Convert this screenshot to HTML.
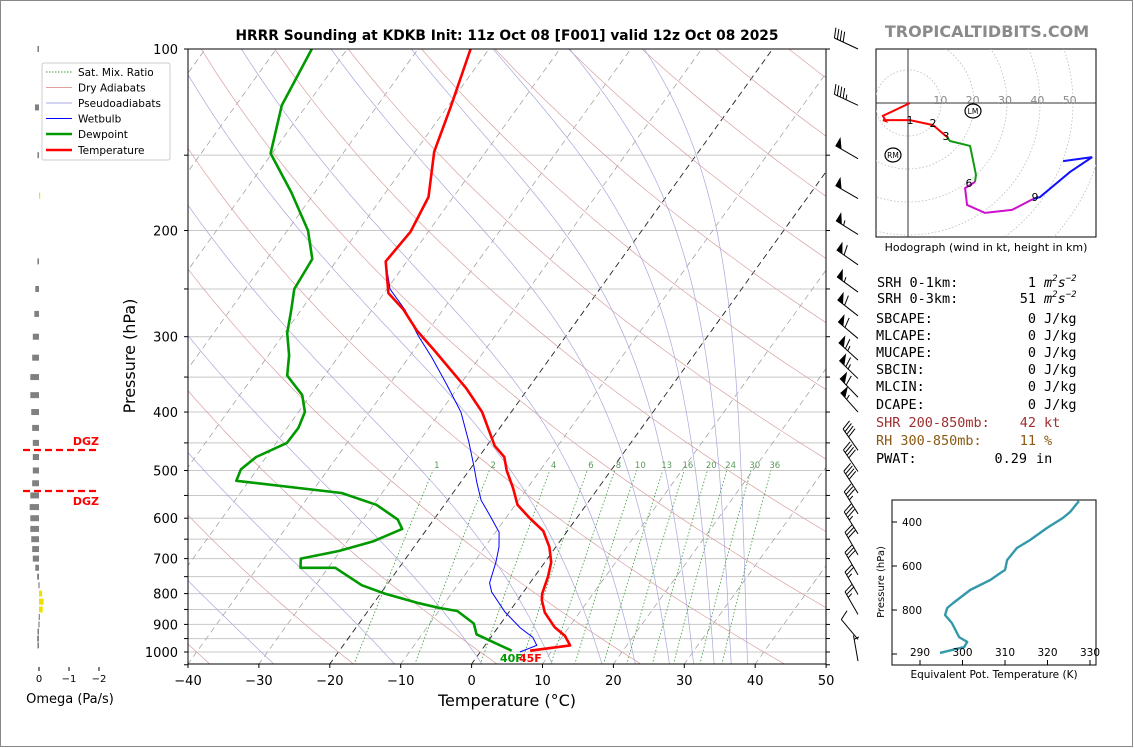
<!DOCTYPE html>
<html><head><meta charset="utf-8"><style>
html,body{margin:0;padding:0;background:#fff;}
svg{display:block;font-family:"DejaVu Sans","Liberation Sans",sans-serif;}
</style></head><body>
<svg id="s" width="1134" height="748" viewBox="0 0 1134 748" xmlns="http://www.w3.org/2000/svg">
<rect x="0.5" y="0.5" width="1132" height="746" fill="#fff" stroke="#888"/>
<defs>
<clipPath id="cm"><rect x="188" y="49" width="638" height="615"/></clipPath>
<clipPath id="ch"><rect x="876" y="49" width="220" height="188"/></clipPath>
<clipPath id="ct"><rect x="892" y="500" width="204" height="165"/></clipPath>
</defs>
<text x="507" y="40" text-anchor="middle" font-size="13.8" font-weight="bold">HRRR Sounding at KDKB Init: 11z Oct 08 [F001] valid 12z Oct 08 2025</text>
<text x="987" y="37" text-anchor="middle" font-size="16" font-weight="bold" fill="#8a8a8a">TROPICALTIDBITS.COM</text>
<g id="bg" clip-path="url(#cm)"></g>
<g id="data" clip-path="url(#cm)"></g>
<rect x="188" y="49" width="638" height="615" fill="none" stroke="#000" stroke-width="1"/>
<g id="axes"></g>
<text x="507" y="706" text-anchor="middle" font-size="16">Temperature (°C)</text>
<text transform="translate(135,356) rotate(-90)" text-anchor="middle" font-size="16">Pressure (hPa)</text>
<text x="500" y="662" font-size="11" font-weight="bold" fill="#009900">40F</text>
<text x="519" y="662" font-size="11" font-weight="bold" fill="#ff0000">45F</text>
<g>
<rect x="42" y="63" width="128" height="97" fill="#fff" stroke="#ccc" rx="2"/>
<line x1="46" y1="72" x2="72" y2="72" stroke="#3a9a3a" stroke-dasharray="1.5,1.5"/>
<text x="78" y="76" font-size="10.5">Sat. Mix. Ratio</text>
<line x1="46" y1="87.5" x2="72" y2="87.5" stroke="#e0a0a0"/>
<text x="78" y="91.5" font-size="10.5">Dry Adiabats</text>
<line x1="46" y1="103" x2="72" y2="103" stroke="#a8a8e0"/>
<text x="78" y="107" font-size="10.5">Pseudoadiabats</text>
<line x1="46" y1="118.5" x2="72" y2="118.5" stroke="#0000ff"/>
<text x="78" y="122.5" font-size="10.5">Wetbulb</text>
<line x1="46" y1="134" x2="72" y2="134" stroke="#009900" stroke-width="2.5"/>
<text x="78" y="138" font-size="10.5">Dewpoint</text>
<line x1="46" y1="150" x2="72" y2="150" stroke="#ff0000" stroke-width="2.5"/>
<text x="78" y="154" font-size="10.5">Temperature</text>
</g>
<g id="omega"></g>
<g id="barbs"></g>
<g id="hodo"></g>
<text x="986" y="251" text-anchor="middle" font-size="11">Hodograph (wind in kt, height in km)</text>
<g font-family="'DejaVu Sans Mono','Liberation Mono',monospace" font-size="13.5">
<text x="877" y="287">SRH 0-1km:</text><text x="1036" y="287" text-anchor="end">1</text><text x="1044" y="287" font-style="italic">m<tspan font-size="9" dy="-6">2</tspan><tspan dy="6">s</tspan><tspan font-size="9" dy="-6">−2</tspan></text>
<text x="877" y="303">SRH 0-3km:</text><text x="1036" y="303" text-anchor="end">51</text><text x="1044" y="303" font-style="italic">m<tspan font-size="9" dy="-6">2</tspan><tspan dy="6">s</tspan><tspan font-size="9" dy="-6">−2</tspan></text>
<text x="876" y="323">SBCAPE:</text><text x="1036" y="323" text-anchor="end">0</text><text x="1044" y="323">J/kg</text>
<text x="876" y="340">MLCAPE:</text><text x="1036" y="340" text-anchor="end">0</text><text x="1044" y="340">J/kg</text>
<text x="876" y="357">MUCAPE:</text><text x="1036" y="357" text-anchor="end">0</text><text x="1044" y="357">J/kg</text>
<text x="876" y="374">SBCIN:</text><text x="1036" y="374" text-anchor="end">0</text><text x="1044" y="374">J/kg</text>
<text x="876" y="391">MLCIN:</text><text x="1036" y="391" text-anchor="end">0</text><text x="1044" y="391">J/kg</text>
<text x="876" y="409">DCAPE:</text><text x="1036" y="409" text-anchor="end">0</text><text x="1044" y="409">J/kg</text>
<text x="876" y="427" fill="#a03030">SHR 200-850mb:</text><text x="1036" y="427" text-anchor="end" fill="#a03030">42</text><text x="1044" y="427" fill="#a03030">kt</text>
<text x="876" y="445" fill="#8b5a14">RH 300-850mb:</text><text x="1036" y="445" text-anchor="end" fill="#8b5a14">11</text><text x="1044" y="445" fill="#8b5a14">%</text>
<text x="876" y="463">PWAT:</text><text x="1027" y="463" text-anchor="end">0.29</text><text x="1036" y="463">in</text>
</g>
<g id="thetae"></g>
</svg>
<script>
// ---- Sounding data ----
const tempP = [995,975,940,910,860,820,800,750,710,670,630,600,570,535,500,475,455,400,365,340,315,293,270,254,225,201,176,148,125,100];
const tempT = [6.9,12.0,10.3,8.0,5.1,3.4,2.8,1.9,0.9,-0.9,-3.4,-6.6,-9.7,-12.0,-14.7,-16.4,-18.9,-24.1,-28.8,-32.9,-37.3,-41.6,-45.7,-49.4,-53.0,-52.5,-53.5,-57.3,-59.5,-62.6];
const dewP = [995,935,897,855,845,830,800,775,725,725,700,680,655,625,603,570,545,520,498,475,450,425,400,375,348,322,296,272,250,223,200,173,149,124,100];
const dewT = [4.3,-2.3,-3.8,-7.4,-10.3,-13.6,-19.4,-23.5,-29.0,-33.9,-34.8,-30.2,-26.3,-23.5,-25.1,-29.6,-35.7,-51.8,-52.3,-51.4,-48.5,-48.4,-49.1,-51.2,-55.3,-57.1,-59.6,-61.3,-63.1,-63.6,-67.1,-73.3,-80.2,-83.5,-85.0];
const wbP = [1000,975,945,912,858,795,768,710,670,633,595,560,525,490,449,400,360,325,298,271,250,225,201,176,148,125,100];
const wbT = [5.6,7.3,5.9,3.2,-0.6,-4.5,-5.7,-6.9,-8.0,-9.5,-12.4,-15.3,-17.6,-19.9,-22.9,-27.1,-31.9,-36.7,-41.0,-45.3,-49.6,-53.0,-52.5,-53.5,-57.3,-59.5,-62.6];
// omega (Pa/s)
const omegaP = [100,125,150,175,225,250,275,300,325,350,375,400,425,450,475,500,525,550,575,600,625,650,675,700,725,750,775,800,825,850,875,900,925,950,975];
const omegaV = [0.05,0.13,0.05,-0.03,0.05,0.12,0.15,0.2,0.22,0.28,0.28,0.25,0.22,0.2,0.2,0.2,0.22,0.28,0.3,0.28,0.28,0.25,0.22,0.2,0.12,0.06,0.02,-0.1,-0.15,-0.12,0.01,0.02,0.05,0.06,0.05];
// wind barbs
const barbP = [100,124,152,177,203,228,253,277,302,328,352,378,400,463,502,545,590,637,690,745,803,866,953,1035];
const barbSpd = [40,45,50,50,55,60,55,60,60,65,65,60,55,40,40,40,35,35,30,30,25,25,10,5];
const barbDir = [295,295,300,300,302,305,306,308,310,312,314,316,318,325,326,327,328,328,330,330,330,330,320,350];
// hodograph (kt)
const hodoRedU=[0.6,-7.6,-6.7,-7.6,0.6,7.6,11.8];
const hodoRedV=[0,-3.9,-5.5,-5.2,-5.2,-6.7,-10.3];
const hodoGrnU=[11.8,12.7,18.8,19.7,20.6,20.3];
const hodoGrnV=[-10.3,-11.5,-13,-17.3,-21.8,-23.9];
const hodoMagU=[20.3,17.3,17.9,23.3,31.5,37.9];
const hodoMagV=[-23.9,-25.8,-30.9,-33.3,-32.4,-29.1];
const hodoBluU=[37.9,40,49.1,55.8,47];
const hodoBluV=[-29.1,-28.5,-20.9,-16.4,-17.6];
// theta-e
const thP=[995,968,945,923,859,823,791,768,709,664,627,618,573,518,482,427,382,355,305];
const thV=[294.7,300.4,301.1,299.2,297.5,295.9,296.4,297.8,301.8,306.5,309.3,310.0,310.5,312.8,315.9,319.9,323.6,325.3,327.4];
// ticks
const tTicks=[-40,-30,-20,-10,0,10,20,30,40,50];
const pTicks=[100,200,300,400,500,600,700,800,900,1000];
const mixW=[1,2,4,6,8,10,13,16,20,24,30,36];

const NS="http://www.w3.org/2000/svg";
function el(tag,attrs,parent){const e=document.createElementNS(NS,tag);for(const k in attrs)e.setAttribute(k,attrs[k]);parent.appendChild(e);return e;}
const Y=p=>49+603*Math.log10(p/100);
const X=(T,p)=>188+(T+40)*7.09+0.72*(664-Y(p));
function pathOf(ps,ts){return ps.map((p,i)=>(i?'L':'M')+X(ts[i],p).toFixed(1)+','+Y(p).toFixed(1)).join('');}

const bg=document.getElementById('bg');
for(let p=100;p<=1050;p+=50){
  const g=el('line',{x1:188,x2:826,y1:Y(p),y2:Y(p),stroke:'#c8c8c8','stroke-width':1},bg);
  
  
}
for(let T=-120;T<=50;T+=10){
  const blk=(T===0||T===-20);
  const l=el('line',{x1:X(T,1050),y1:Y(1050),x2:X(T,100),y2:Y(100),stroke:blk?'#222':'#999','stroke-width':blk?0.9:0.7,'stroke-dasharray':'6,4'},bg);
  
  
}
for(let T0=-40;T0<=220;T0+=20){
  const ps=[],ts=[];
  for(let p=1050;p>=100;p-=10){ps.push(p);ts.push((T0+273.15)*Math.pow(p/1000,0.2857)-273.15);}
  const l=el('path',{d:pathOf(ps,ts),fill:'none',stroke:'#d9a0a0','stroke-width':0.7},bg);
  
  
}
const Rd=287.04,Cp=1005.7,Lv=2.501e6,eps=0.622;
const es=Tc=>6.112*Math.exp(17.67*Tc/(Tc+243.5));
[-107.7,-87.7,-67.7,-47.7,-27.7,-10.7,1.6,11.5,18.5,23.2,28,31.4,34.3,36.7,39].forEach(T0=>{
  const ps=[],ts=[];let T=T0+273.15;
  for(let p=1050;p>=100;p-=5){ps.push(p);ts.push(T-273.15);const e=es(T-273.15);const rs=eps*e/(p-e);
    const d=(Rd*T+Lv*rs)/(Cp+Lv*Lv*rs*eps/(Rd*T*T))/p;T-=d*5;}
  const l=el('path',{d:pathOf(ps,ts),fill:'none',stroke:'#a8a8dc','stroke-width':0.7},bg);
  
  
});
mixW.forEach(w=>{
  const ps=[],ts=[];
  for(let p=1050;p>=500;p-=10){const e=(w/1000)*p/(eps+w/1000);const a=Math.log(e/6.112);ps.push(p);ts.push(243.5*a/(17.67-a));}
  const l=el('path',{d:pathOf(ps,ts),fill:'none',stroke:'#3a9a3a','stroke-width':0.8,'stroke-dasharray':'1.5,2'},bg);
  
  
  const lb=el('text',{x:X(ts[ts.length-1],490),y:Y(490)+3,'font-size':8.5,fill:'#5a9a5a','text-anchor':'middle'},bg);
  lb.textContent=w;
  
  
});
const dg=document.getElementById('data');
let pw=el('path',{d:pathOf(wbP,wbT),fill:'none',stroke:'#0000ff','stroke-width':1},dg);


let pd=el('path',{d:pathOf(dewP,dewT),fill:'none',stroke:'#009900','stroke-width':2.6,'stroke-linejoin':'round'},dg);


let pt=el('path',{d:pathOf(tempP,tempT),fill:'none',stroke:'#ff0000','stroke-width':2.6,'stroke-linejoin':'round'},dg);



const ax=document.getElementById('axes');
tTicks.forEach(T=>{const x=188+(T+40)*7.09;
  const t=el('line',{x1:x,x2:x,y1:664,y2:668,stroke:'#000'},ax);
  
  
  const lb=el('text',{x:x,y:685,'font-size':13,'text-anchor':'middle'},ax);lb.textContent=(T<0?'−'+(-T):T);
  
  
});
for(let p=100;p<=1050;p+=50){const y=Y(p);
  const t1=el('line',{x1:184,x2:188,y1:y,y2:y,stroke:'#000'},ax);
  
  
  const t2=el('line',{x1:826,x2:830,y1:y,y2:y,stroke:'#000'},ax);
  
  
}
pTicks.forEach(p=>{const lb=el('text',{x:178,y:Y(p)+5,'font-size':13,'text-anchor':'end'},ax);lb.textContent=p;
  
  });

const om=document.getElementById('omega');
omegaP.forEach((p,i)=>{const v=omegaV[i];const w=Math.abs(v)*31;const x=v>0?39-w:39;
  const r=el('rect',{x:x,y:Y(p)-3,width:Math.max(w,1.2),height:6,fill:v>0?'#808080':'#f0e000'},om);
  
  });
[[0,'0'],[-1,'−1'],[-2,'−2']].forEach(([v,s])=>{const x=39-v*30;
  const t=el('line',{x1:x,x2:x,y1:667,y2:671,stroke:'#000'},om);
  
  
  const lb=el('text',{x:x,y:682,'font-size':10,'text-anchor':'middle'},om);lb.textContent=s;
  
  });
const ol=el('text',{x:70,y:703,'font-size':13,'text-anchor':'middle'},om);ol.textContent='Omega (Pa/s)';


[450,491].forEach((y,i)=>{const l=el('line',{x1:23,x2:99,y1:y,y2:y,stroke:'#ff0000','stroke-width':2.2,'stroke-dasharray':'7,4'},om);
  
  
  const t=el('text',{x:99,y:i?505:445,'font-size':11,'font-weight':'bold',fill:'#ff0000','text-anchor':'end'},om);t.textContent='DGZ';
  
  });

const bb=document.getElementById('barbs');
barbP.forEach((p,i)=>{
  const L=26,d=barbDir[i]*Math.PI/180;const ux=Math.sin(d),uy=-Math.cos(d);const px=-uy,py=ux;
  const lx=858,ly=Y(p);const tx=lx+L*ux,ty=ly+L*uy;
  const g=el('g',{},bb);
  
  
  el('line',{x1:lx,y1:ly,x2:tx,y2:ty,stroke:'#000','stroke-width':1},g);
  let s=Math.round(barbSpd[i]/5)*5;let pos=0;
  const at=q=>[tx-ux*q,ty-uy*q];
  while(s>=50){const a=at(pos),b=at(pos+7);el('polygon',{points:`${a[0]},${a[1]} ${b[0]},${b[1]} ${a[0]+px*10},${a[1]+py*10}`,fill:'#000'},g);pos+=8;s-=50;}
  if(pos>0)pos+=1;
  while(s>=10){const a=at(pos);el('line',{x1:a[0],y1:a[1],x2:a[0]+px*10+ux*3,y2:a[1]+py*10+uy*3,stroke:'#000','stroke-width':1},g);pos+=3.2;s-=10;}
  if(s>=5){if(pos===0)pos=4;const a=at(pos);el('line',{x1:a[0],y1:a[1],x2:a[0]+px*5+ux*1.5,y2:a[1]+py*5+uy*1.5,stroke:'#000','stroke-width':1},g);}
});

const hd=document.getElementById('hodo');
const HX=u=>908+u*3.3, HY=v=>103-v*3.3;
el('rect',{x:876,y:49,width:220,height:188,fill:'#fff',stroke:'#000','stroke-width':1},hd);
const hc=el('g',{'clip-path':'url(#ch)'},hd);
for(let r=10;r<=80;r+=10){const c=el('circle',{cx:908,cy:103,r:r*3.3,fill:'none',stroke:'#bbb','stroke-width':0.8,'stroke-dasharray':'1.5,2'},hc);
  
  }
el('line',{x1:876,x2:1096,y1:103,y2:103,stroke:'#333','stroke-width':1},hc);
el('line',{x1:908,x2:908,y1:49,y2:237,stroke:'#333','stroke-width':1},hc);
[10,20,30,40,50].forEach(k=>{const t=el('text',{x:HX(k*0.98),y:104,'font-size':11,fill:'#888','text-anchor':'middle'},hc);t.textContent=k;
  
  });
[[hodoRedU,hodoRedV,'#ff0000'],[hodoGrnU,hodoGrnV,'#119911'],[hodoMagU,hodoMagV,'#cc11cc'],[hodoBluU,hodoBluV,'#1111ff']].forEach(([U,V,c])=>{
  const l=el('path',{d:U.map((u,i)=>(i?'L':'M')+HX(u)+','+HY(V[i])).join(''),fill:'none',stroke:c,'stroke-width':2},hc);
  
  });
[['1',910,124],['2',933,127],['3',946,140],['6',969,187],['9',1035,201]].forEach(([s,x,y])=>{const t=el('text',{x:x,y:y,'font-size':11,'text-anchor':'middle'},hc);t.textContent=s;
  
  });
[['LM',973,111],['RM',893,155]].forEach(([s,x,y])=>{const g=el('g',{},hc);
  
  
  el('ellipse',{cx:x,cy:y,rx:8,ry:7,fill:'#fff',stroke:'#000','stroke-width':1.2},g);
  const t=el('text',{x:x,y:y+3,'font-size':7.5,'text-anchor':'middle'},g);t.textContent=s;});

const te=document.getElementById('thetae');
const TX=v=>920+(v-290)*4.25, TY=p=>522+(p-400)*0.22;
el('rect',{x:892,y:500,width:204,height:165,fill:'#fff',stroke:'#000','stroke-width':1},te);
const tc=el('g',{'clip-path':'url(#ct)'},te);
const tl=el('path',{d:thP.map((p,i)=>(i?'L':'M')+TX(thV[i]).toFixed(1)+','+TY(p).toFixed(1)).join(''),fill:'none',stroke:'#3399aa','stroke-width':2.4,'stroke-linejoin':'round'},tc);


[400,600,800,1000].forEach(p=>{const y=TY(p);el('line',{x1:892,x2:897,y1:y,y2:y,stroke:'#000'},te);
  if(p<1000){const t=el('text',{x:912,y:y+4,'font-size':10.5,'text-anchor':'middle'},te);t.textContent=p;
  
  }});
[290,300,310,320,330].forEach(v=>{const x=TX(v);el('line',{x1:x,x2:x,y1:660,y2:665,stroke:'#000'},te);
  const t=el('text',{x:x,y:656,'font-size':10.5,'text-anchor':'middle'},te);t.textContent=v;
  
  });
const tx1=el('text',{x:994,y:678,'font-size':10.5,'text-anchor':'middle'},te);tx1.textContent='Equivalent Pot. Temperature (K)';


const ty1=el('text',{transform:'translate(884,582) rotate(-90)','font-size':10,'text-anchor':'middle'},te);ty1.textContent='Pressure (hPa)';


</script>
</body></html>
